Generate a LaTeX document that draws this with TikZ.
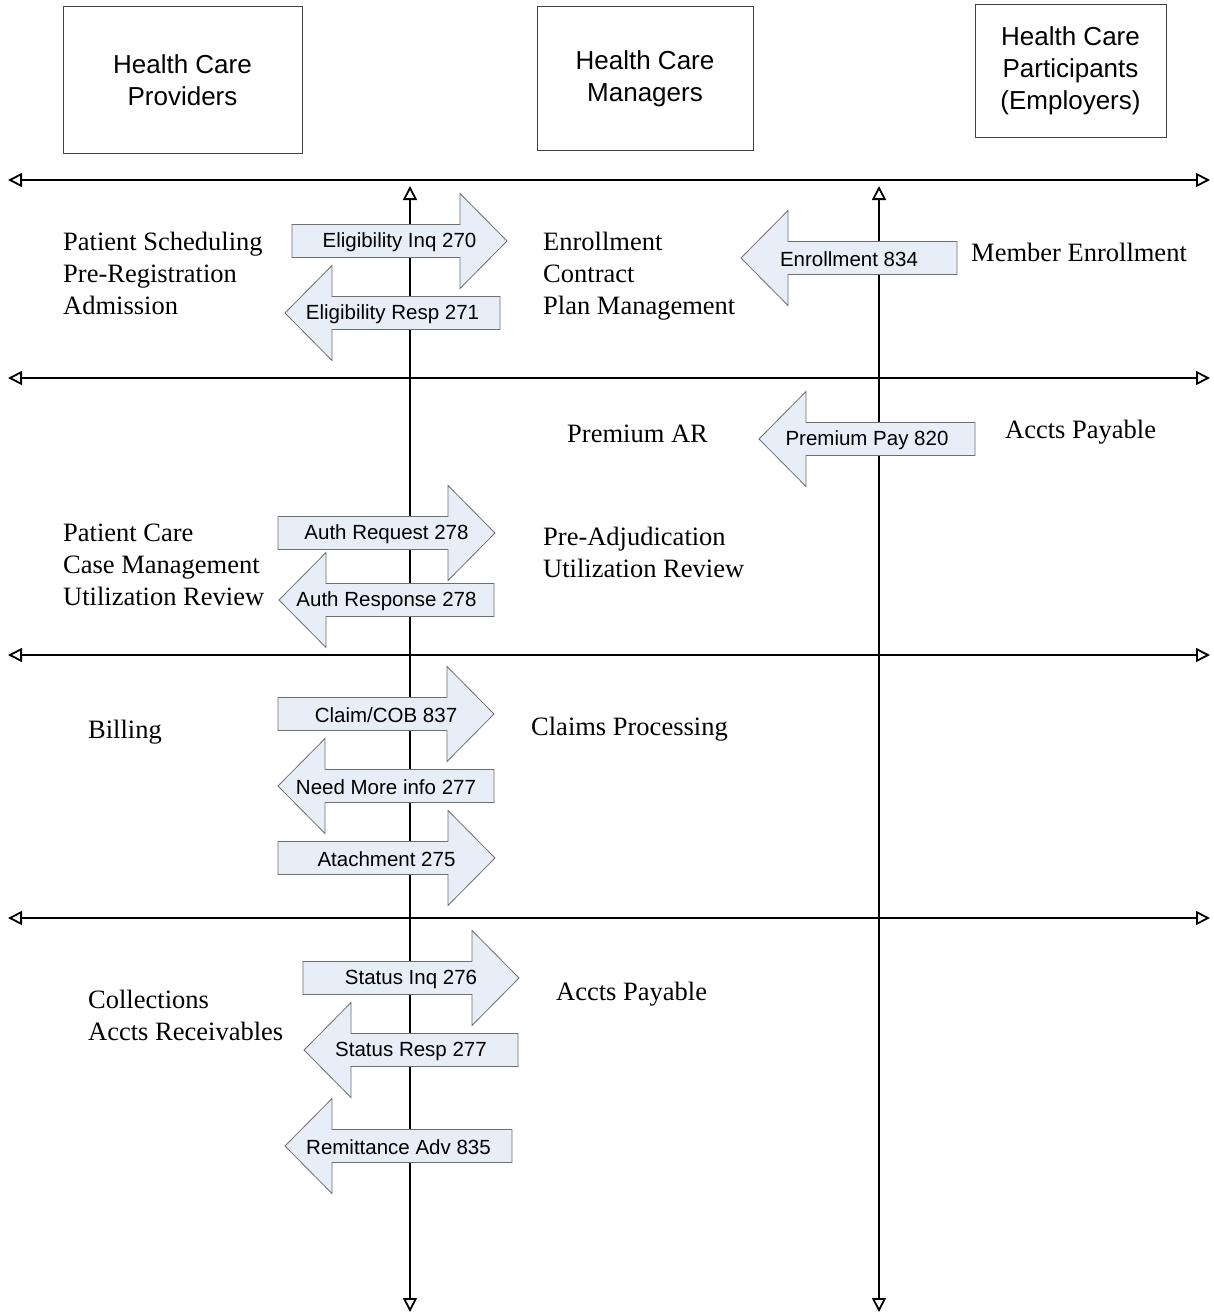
\documentclass[tikz,border=0pt]{standalone}
\usepackage{fontspec}
\setmainfont{Liberation Serif}
\newfontfamily\labelfont{Liberation Sans}
\usetikzlibrary{arrows.meta}

\definecolor{arrowfill}{RGB}{232,238,248}
\definecolor{arrowedge}{RGB}{110,110,110}

% block arrow: name, tail x, tip x, mid y, label
\newcommand{\blockarrow}[5]{%
  \pgfmathsetmacro\hbase{#3-47*sign(#3-#2)}
  \draw[barrow] (#2,#4-16.5) -- (\hbase,#4-16.5) -- (\hbase,#4-47.5) -- (#3,#4)
     -- (\hbase,#4+47.5) -- (\hbase,#4+16.5) -- (#2,#4+16.5) -- cycle;
  \node[blabel] (#1) at ({(#2+#3)/2},#4) {#5};
}

\begin{document}
\begin{tikzpicture}[
    x=1pt, y=-1pt,
    party/.style={draw=black!75, line width=1pt, align=center,
                  font=\labelfont\fontsize{26}{32}\selectfont},
    task/.style={anchor=west, inner sep=0pt, align=left,
                 font=\fontsize{26.5}{32}\selectfont},
    axis/.style={line width=1.8pt,
                 {Triangle[open, length=14pt, width=14pt]}-{Triangle[open, length=14pt, width=14pt]}},
    barrow/.style={draw=arrowedge, fill=arrowfill, line width=0.8pt},
    blabel/.style={inner sep=0pt, yshift=-1.5pt, font=\labelfont\fontsize{20.5}{24}\selectfont},
]
\useasboundingbox (0,0) rectangle (1214,1314);

\node[party, minimum width=239pt, minimum height=146pt] (prov) at (182.5,80) {Health Care\\Providers};
\node[party, minimum width=216pt, minimum height=143pt] (mgr) at (645,78.5) {Health Care\\Managers};
\node[party, minimum width=191pt, minimum height=132pt] (part) at (1070.5,71) {Health Care\\Participants\\(Employers)};

% swim lanes
\foreach \y [count=\i] in {180,378,655,918} {
  \coordinate (hw\i) at (8,\y);
  \coordinate (he\i) at (1210,\y);
  \draw[axis] (hw\i) -- (he\i);
}
\foreach \x [count=\i] in {410,879} {
  \coordinate (vt\i) at (\x,186);
  \coordinate (vb\i) at (\x,1312);
  \draw[axis] (vt\i) -- (vb\i);
}

% transactions
\blockarrow{elig}{292}{507}{241}{Eligibility Inq 270}
\blockarrow{eligresp}{500}{285}{313}{Eligibility Resp 271}
\blockarrow{enroll}{957}{741}{258}{Enrollment 834}
\blockarrow{premium}{975}{759}{439}{Premium Pay 820}
\blockarrow{authreq}{278}{495}{533}{Auth Request 278}
\blockarrow{authresp}{494}{279}{600}{Auth Response 278}
\blockarrow{claim}{278}{494}{714}{Claim/COB 837}
\blockarrow{moreinfo}{494}{278}{786}{Need More info 277}
\blockarrow{attach}{278}{495}{858}{Atachment 275}
\blockarrow{statinq}{303}{519}{978}{Status Inq 276}
\blockarrow{statresp}{518}{304}{1050}{Status Resp 277}
\blockarrow{remit}{512}{285}{1146}{Remittance Adv 835}

% business functions
\node[task] (sched) at (63,273) {Patient Scheduling\\Pre-Registration\\Admission};
\node[task] (enrl) at (543,276) {Enrollment\\Contract\\Plan Management};
\node[task] (member) at (971,252) {Member Enrollment};
\node[task] (premar) at (567,434) {Premium AR};
\node[task] (ap1) at (1005,432) {Accts Payable};
\node[task] (care) at (63,565) {Patient Care\\Case Management\\Utilization Review};
\node[task] (preadj) at (543,552) {Pre-Adjudication\\Utilization Review};
\node[task] (bill) at (88,732) {Billing};
\node[task] (claims) at (531,729) {Claims Processing};
\node[task] (collect) at (88,1015) {Collections\\Accts Receivables};
\node[task] (ap2) at (556,994) {Accts Payable};
\end{tikzpicture}
\end{document}
